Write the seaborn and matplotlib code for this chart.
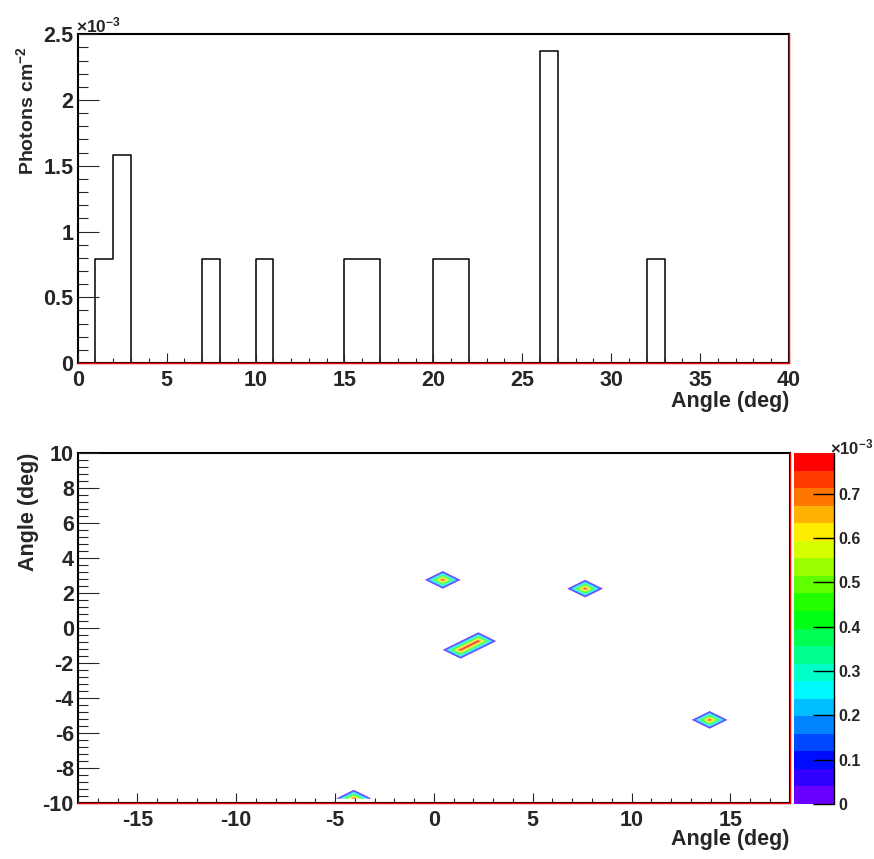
import numpy as np
import pandas as pd
import matplotlib
matplotlib.use("Agg")
import matplotlib.pyplot as plt
import seaborn as sns
from matplotlib.tri import Triangulation
from matplotlib.colors import hsv_to_rgb, ListedColormap, BoundaryNorm
from matplotlib.cm import ScalarMappable
from matplotlib.ticker import MultipleLocator, FuncFormatter

# ---------------- data ----------------
# 1D histogram: angle bin centres (deg) and flux (x1e-3 photons cm^-2)
hist_angle = [1.5, 2.5, 7.5, 10.5, 15.5, 16.5, 20.5, 21.5, 26.5, 32.5]
hist_flux = [0.792, 1.584, 0.792, 0.792, 0.792, 0.792, 0.792, 0.792, 2.376, 0.792]
hist_range = (0, 40)
hist_nbins = 40

# 2D map: bin centres of filled cells (deg) and flux (x1e-3)
map_x = [0.45, 7.65, 1.35, 2.25, 13.95, -4.05]
map_y = [2.75, 2.25, -1.25, -0.75, -5.25, -9.75]
map_flux = [0.792, 0.792, 0.792, 0.792, 0.792, 0.792]
map_xrange = (-18, 18)
map_yrange = (-10, 10)
map_nx, map_ny = 40, 40
n_levels = 20
cbar_ticks = [0, 0.1, 0.2, 0.3, 0.4, 0.5, 0.6, 0.7]

# ---------------- style ----------------
sns.set_theme(style="ticks")
plt.rcParams.update({
    "font.family": ["Liberation Sans", "DejaVu Sans"],
    "font.weight": "bold",
    "axes.labelweight": "bold",
    "axes.unicode_minus": False,
    "axes.axisbelow": False,
    "mathtext.fontset": "custom",
    "mathtext.rm": "Liberation Sans:bold",
    "mathtext.it": "Liberation Sans:bold",
    "mathtext.bf": "Liberation Sans:bold",
    "mathtext.default": "regular",
    "axes.edgecolor": "black",
    "axes.linewidth": 1.5,
})

W, H = 874, 859
fig = plt.figure(figsize=(W / 100, H / 100), dpi=100)
fig.patch.set_facecolor("white")

def fx(px):
    return px / W

def fy(py):
    return 1 - py / H

fmt = FuncFormatter(lambda v, p: f"{v:g}")
LS = 15.5

# ---------------- top: histogram ----------------
ax1 = fig.add_axes([fx(77.7), fy(363), fx(789) - fx(77.7), fy(34.3) - fy(363)])
hist_df = pd.DataFrame({"angle": hist_angle, "flux": hist_flux})
sns.histplot(data=hist_df, x="angle", weights="flux", bins=hist_nbins,
             binrange=hist_range, element="step",
             fill=False, color="black", linewidth=1.1, ax=ax1)
ax1.set_xlim(*hist_range)
ax1.set_ylim(0, 2.5)
ax1.set_xlabel("")
ax1.set_ylabel("")
ax1.xaxis.set_major_locator(MultipleLocator(5))
ax1.xaxis.set_minor_locator(MultipleLocator(1))
ax1.yaxis.set_major_locator(MultipleLocator(0.5))
ax1.yaxis.set_minor_locator(MultipleLocator(0.1))
ax1.xaxis.set_major_formatter(fmt)
ax1.yaxis.set_major_formatter(fmt)
ax1.tick_params(axis="x", which="major", direction="in", length=7.5, width=0.8,
                labelsize=LS, pad=5, top=False)
ax1.tick_params(axis="x", which="minor", direction="in", length=3.75, width=0.8, top=False)
ax1.tick_params(axis="y", which="major", direction="in", length=15, width=0.8,
                labelsize=LS, pad=3, right=False)
ax1.tick_params(axis="y", which="minor", direction="in", length=7.5, width=0.8, right=False)
ax1.axhline(0, color="red", lw=1.0, zorder=6, clip_on=False)
ax1.axvline(hist_range[1], color="red", lw=1.0, zorder=6, clip_on=False)
for t in ax1.get_xticklabels() + ax1.get_yticklabels():
    t.set_fontweight("bold")

fig.text(fx(789), fy(407), "Angle (deg)", ha="right", va="baseline",
         fontsize=LS, fontweight="bold")
fig.text(fx(26), fy(46), "Photons cm$^{-2}$", rotation=90, ha="center", va="top",
         fontsize=14, fontweight="bold")
fig.text(fx(76), fy(32), "×10$^{-3}$", ha="left", va="baseline",
         fontsize=12.5, fontweight="bold")

# ---------------- bottom: contour map ----------------
ax2 = fig.add_axes([fx(78), fy(803), fx(789.7) - fx(78), fy(453) - fy(803)])
dx = (map_xrange[1] - map_xrange[0]) / map_nx
dy = (map_yrange[1] - map_yrange[0]) / map_ny
xc = map_xrange[0] + (np.arange(map_nx) + 0.5) * dx
yc = map_yrange[0] + (np.arange(map_ny) + 0.5) * dy
Z = np.zeros((map_ny, map_nx))
for hx, hy, v in zip(map_x, map_y, map_flux):
    ix = int(np.floor((hx - map_xrange[0]) / dx))
    iy = int(np.floor((hy - map_yrange[0]) / dy))
    Z[iy, ix] += v
XX, YY = np.meshgrid(xc, yc)
zf = Z.ravel()

def node(j, i):
    return j * map_nx + i

tris = []
for j in range(map_ny - 1):
    for i in range(map_nx - 1):
        p00, p10, p01, p11 = node(j, i), node(j, i + 1), node(j + 1, i), node(j + 1, i + 1)
        s1 = (min(zf[p00], zf[p11]), -(zf[p00] + zf[p11]))
        s2 = (min(zf[p10], zf[p01]), -(zf[p10] + zf[p01]))
        if s1 >= s2:
            tris += [(p00, p10, p11), (p00, p11, p01)]
        else:
            tris += [(p00, p10, p01), (p10, p11, p01)]
tri = Triangulation(XX.ravel(), YY.ravel(), np.array(tris))

zmax = max(map_flux)
bounds = np.linspace(0, zmax, n_levels + 1)
levels = bounds.copy()
levels[0] = zmax * 1e-3
hues = np.linspace(265, 0, n_levels) / 360.0
colors = [hsv_to_rgb((h, 1.0, 1.0)) for h in hues]
cs = ax2.tricontourf(tri, zf, levels=levels, colors=colors, antialiased=True)

ax2.set_xlim(*map_xrange)
ax2.set_ylim(*map_yrange)
ax2.xaxis.set_major_locator(MultipleLocator(5))
ax2.xaxis.set_minor_locator(MultipleLocator(1))
ax2.yaxis.set_major_locator(MultipleLocator(2))
ax2.yaxis.set_minor_locator(MultipleLocator(0.4))
ax2.xaxis.set_major_formatter(fmt)
ax2.yaxis.set_major_formatter(fmt)
ax2.tick_params(axis="x", which="major", direction="in", length=7.5, width=0.8,
                labelsize=LS, pad=5, top=False)
ax2.tick_params(axis="x", which="minor", direction="in", length=3.75, width=0.8, top=False)
ax2.tick_params(axis="y", which="major", direction="in", length=15, width=0.8,
                labelsize=LS, pad=3, right=False)
ax2.tick_params(axis="y", which="minor", direction="in", length=7.5, width=0.8, right=False)
ax2.axhline(map_yrange[0], color="red", lw=1.0, zorder=6, clip_on=False)
ax2.axvline(map_xrange[1], color="red", lw=1.0, zorder=6, clip_on=False)
for t in ax2.get_xticklabels() + ax2.get_yticklabels():
    t.set_fontweight("bold")

fig.text(fx(789), fy(845), "Angle (deg)", ha="right", va="baseline",
         fontsize=LS, fontweight="bold")
fig.text(fx(29), fy(453), "Angle (deg)", rotation=90, ha="center", va="top",
         fontsize=LS, fontweight="bold")

# ---------------- colour bar ----------------
cax = fig.add_axes([fx(794), fy(804), fx(834) - fx(794), fy(453) - fy(804)])
sm = ScalarMappable(norm=BoundaryNorm(bounds, n_levels), cmap=ListedColormap(colors))
cb = fig.colorbar(sm, cax=cax, ticks=cbar_ticks)
cb.outline.set_visible(False)
cb.solids.set_zorder(0.1)
cax.set_axisbelow(False)
cax.yaxis.set_major_formatter(fmt)
cax.tick_params(axis="y", direction="in", length=15, width=1.0, labelsize=11.5,
                pad=3, color="black")
cax.minorticks_off()
for t in cax.get_yticklabels():
    t.set_fontweight("bold")
cax.plot([1, 1], [0, 1], transform=cax.transAxes, color="black", lw=1.0, clip_on=False)
fig.text(fx(830), fy(454), "×10$^{-3}$", ha="left", va="baseline",
         fontsize=12, fontweight="bold")

fig.savefig("out.png", dpi=100, facecolor="white")
